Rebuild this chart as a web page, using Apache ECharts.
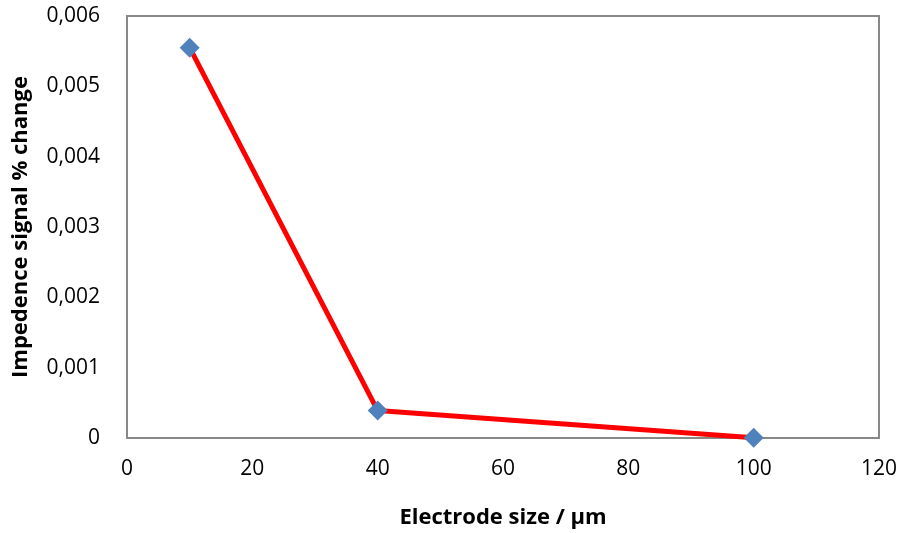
<!DOCTYPE html>
<html>
<head>
<meta charset="utf-8">
<script src="https://cdn.jsdelivr.net/npm/echarts@6/dist/echarts.min.js"></script>
<style>
  html, body { margin: 0; padding: 0; background: #fff; }
  #chart { width: 903px; height: 533px; }
</style>
</head>
<body>
<div id="chart"></div>
<script>
// Electrode sizes (µm) and the measured impedance signal change
const electrodeSize = [10, 40, 100];
const signalChange = [0.00555, 0.00039, 0.000005];

const xTicks = [0, 20, 40, 60, 80, 100, 120];
const yTicks = [0, 0.001, 0.002, 0.003, 0.004, 0.005, 0.006];

const fontFamily = '"Open Sans", "Liberation Sans", sans-serif';

const chart = echarts.init(document.getElementById('chart'), null, { renderer: 'canvas' });

chart.setOption({
  animation: false,
  backgroundColor: '#ffffff',
  grid: {
    left: 127, right: 24, top: 16, bottom: 95,
    containLabel: false,
    outerBoundsMode: 'none',
    show: true, borderColor: '#888888', borderWidth: 2, backgroundColor: 'transparent'
  },
  xAxis: {
    type: 'value',
    min: xTicks[0],
    max: xTicks[xTicks.length - 1],
    interval: 20,
    name: 'Electrode size / µm',
    nameLocation: 'middle',
    nameGap: 69,
    nameTextStyle: { fontFamily, fontSize: 22, fontWeight: 'bold', color: '#000' },
    axisLine: { show: true, lineStyle: { color: '#888888', width: 2 } },
    axisTick: { show: false },
    splitLine: { show: false },
    axisLabel: { fontFamily, fontSize: 21, color: '#000', margin: 21 }
  },
  yAxis: {
    type: 'value',
    min: yTicks[0],
    max: yTicks[yTicks.length - 1],
    interval: 0.001,
    name: 'Impedence signal % change',
    nameLocation: 'middle',
    nameGap: 95,
    nameTextStyle: { fontFamily, fontSize: 22, fontWeight: 'bold', color: '#000' },
    axisLine: { show: true, lineStyle: { color: '#888888', width: 2 } },
    axisTick: { show: false },
    splitLine: { show: false },
    axisLabel: {
      fontFamily, fontSize: 21, color: '#000', margin: 27,
      formatter: v => v === 0 ? '0' : v.toFixed(3).replace('.', ',')
    }
  },
  series: [{
    type: 'line',
    data: electrodeSize.map((x, i) => [x, signalChange[i]]),
    symbol: 'diamond',
    symbolSize: 20,
    lineStyle: { color: '#ff0000', width: 5 },
    itemStyle: { color: '#4f81bd' },
    z: 3
  }]
});
</script>
</body>
</html>
